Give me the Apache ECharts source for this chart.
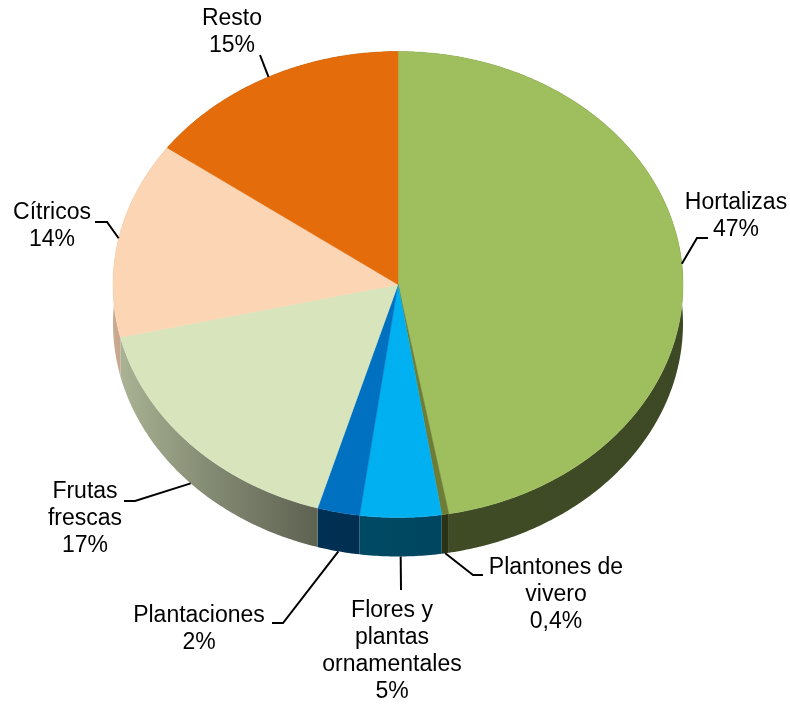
<!DOCTYPE html>
<html>
<head>
<meta charset="utf-8">
<script src="https://cdn.jsdelivr.net/npm/echarts@6/dist/echarts.min.js"></script>
<style>
  html, body { margin: 0; padding: 0; background: #fff; }
  #chart { width: 790px; height: 704px; }
</style>
</head>
<body>
<div id="chart"></div>
<script>
// data, clockwise from 12 o'clock (shares)
const categories = ['Hortalizas', 'Plantones de\nvivero', 'Flores y\nplantas\nornamentales', 'Plantaciones', 'Frutas\nfrescas', 'Cítricos', 'Resto'];
const shares = [47.1, 0.4, 4.6, 2.4, 16.8, 13.6, 15.0];
const sliceColors = ['#9FBF5F', '#6E7D35', '#00B0F0', '#0070C0', '#D8E4BC', '#FCD5B5', '#E46C0A'];

// tilted pie geometry
const cx = 398, cy = 284.5, rx = 285, ry = 233, depth = 39;

// where each label block sits and the elbow of its leader line
const labelLayout = [
    { at: [736, 216], leader: [[697, 238], [708, 238]] },
    { at: [556, 595], leader: [[473, 575], [483, 575]] },
    { at: [392, 651], leader: [[401, 590]] },
    { at: [199, 629], leader: [[283, 623], [272, 623]] },
    { at: [85, 519], leader: [[135, 501], [124, 501]] },
    { at: [52, 226], leader: [[107, 222], [95, 222]] },
    { at: [232, 32], leader: [[260, 55]] }
];

const total = shares.reduce((a, b) => a + b, 0);

function sliceAngles(i) {
    let before = 0;
    for (let k = 0; k < i; k++) before += shares[k];
    return [before / total * 2 * Math.PI, (before + shares[i]) / total * 2 * Math.PI];
}

function pt(t, dy) {
    return [cx + rx * Math.sin(t), cy - ry * Math.cos(t) + (dy || 0)];
}

function arc(t0, t1, dy) {
    const n = Math.max(2, Math.ceil((t1 - t0) / 0.01));
    const pts = [];
    for (let i = 0; i <= n; i++) pts.push(pt(t0 + (t1 - t0) * i / n, dy));
    return pts;
}

function shade(hex, f) {
    const n = parseInt(hex.slice(1), 16);
    const r = Math.round(((n >> 16) & 255) * f);
    const g = Math.round(((n >> 8) & 255) * f);
    const b = Math.round((n & 255) * f);
    return 'rgb(' + r + ',' + g + ',' + b + ')';
}

function pctText(v) {
    const p = v / total * 100;
    return (p < 1 ? p.toFixed(1).replace('.', ',') : String(Math.round(p))) + '%';
}

function renderSide(params, api) {
    const i = params.dataIndex;
    const [a0, a1] = sliceAngles(i);
    const pts = arc(a0, a1, 0).concat(arc(a0, a1, depth).reverse());
    const c = sliceColors[i];
    return {
        type: 'polygon',
        shape: { points: pts },
        style: {
            fill: new echarts.graphic.LinearGradient(cx - rx, 0, cx + rx, 0, [
                { offset: 0, color: shade(c, 0.8) },
                { offset: 0.16, color: shade(c, 0.62) },
                { offset: 0.36, color: shade(c, 0.43) },
                { offset: 0.55, color: shade(c, 0.4) },
                { offset: 1, color: shade(c, 0.38) }
            ], true),
            stroke: null
        }
    };
}

function renderTop(params, api) {
    const i = params.dataIndex;
    const [a0, a1] = sliceAngles(i);
    const pts = [[cx, cy]].concat(arc(a0, a1, 0));
    return {
        type: 'polygon',
        shape: { points: pts },
        style: { fill: sliceColors[i], stroke: sliceColors[i], lineWidth: 0.5 }
    };
}

function renderLabel(params, api) {
    const i = params.dataIndex;
    const [a0, a1] = sliceAngles(i);
    const mid = (a0 + a1) / 2;
    const front = mid > Math.PI / 2 && mid < Math.PI * 1.5;
    const anchor = pt(mid, front ? depth : 0);
    const lay = labelLayout[i];
    return {
        type: 'group',
        children: [
            {
                type: 'polyline',
                shape: { points: [anchor].concat(lay.leader) },
                style: { stroke: '#000', lineWidth: 2, fill: null }
            },
            {
                type: 'text',
                style: {
                    text: categories[i] + '\n' + pctText(api.value(0)),
                    x: lay.at[0],
                    y: lay.at[1],
                    align: 'center',
                    verticalAlign: 'middle',
                    fontFamily: '"Liberation Sans", Arial, sans-serif',
                    fontSize: 23,
                    lineHeight: 27,
                    fill: '#000'
                }
            }
        ]
    };
}

const chart = echarts.init(document.getElementById('chart'));
chart.setOption({
    animation: false,
    series: [
        { type: 'custom', coordinateSystem: 'none', data: shares, renderItem: renderSide, z: 1, silent: true },
        { type: 'custom', coordinateSystem: 'none', data: shares, renderItem: renderTop, z: 2, silent: true },
        { type: 'custom', coordinateSystem: 'none', data: shares, renderItem: renderLabel, z: 3, silent: true }
    ]
});
</script>
</body>
</html>
